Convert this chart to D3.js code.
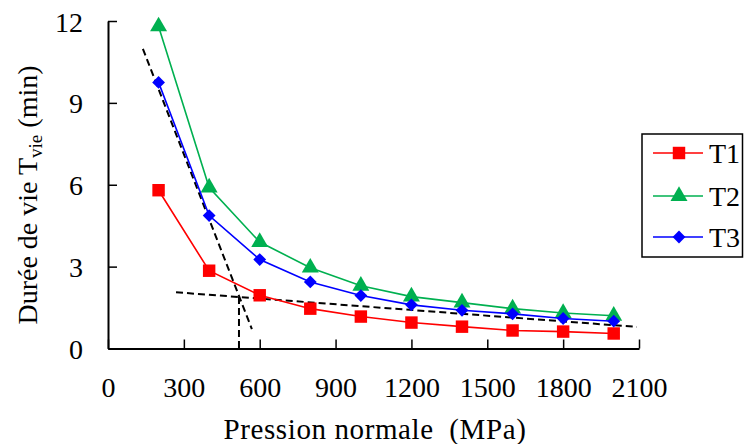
<!DOCTYPE html>
<html>
<head>
<meta charset="utf-8">
<script src="https://cdn.jsdelivr.net/npm/d3@7"></script>
<style>
  html, body { margin: 0; padding: 0; background: #fff; }
  svg { display: block; }
  text { font-family: "Liberation Serif", "Times New Roman", Times, "DejaVu Serif", serif; fill: #000; }
</style>
</head>
<body>
<svg id="chart" width="744" height="444"></svg>
<script>
// ---- data ----
const pressure = [200, 400, 600, 800, 1000, 1200, 1400, 1600, 1800, 2000];
const T1 = [5.8, 2.85, 1.95, 1.46, 1.17, 0.95, 0.8, 0.66, 0.62, 0.55];
const T2 = [11.8, 5.9, 3.9, 2.96, 2.3, 1.9, 1.68, 1.46, 1.3, 1.2];
const T3 = [9.75, 4.87, 3.26, 2.44, 1.94, 1.6, 1.4, 1.27, 1.1, 1.0];
const seriesNames = ["T1", "T2", "T3"];
const xTicks = [0, 300, 600, 900, 1200, 1500, 1800, 2100];
const yTicks = [0, 3, 6, 9, 12];
// construction (dashed) lines: [x, y] pairs in data units
const dashSteep = [[138, 10.98], [569, 0.71]];
const dashFlat = [[269, 2.06], [2092, 0.79]];
const dashVert = [[518, 1.89], [518, 0]];

const colors = { T1: "#ff0000", T2: "#00b050", T3: "#0000ff" };
const diamond = {
  draw(ctx, size) {
    const r = Math.sqrt(size / 2);
    ctx.moveTo(0, -r); ctx.lineTo(r, 0); ctx.lineTo(0, r); ctx.lineTo(-r, 0); ctx.closePath();
  }
};
const shapes = { T1: d3.symbolSquare, T2: d3.symbolTriangle, T3: diamond };
const sizes = { T1: 155, T2: 125, T3: 82 };

const svg = d3.select("#chart");
const x = d3.scaleLinear().domain([0, 2100]).range([108, 639]);
const y = d3.scaleLinear().domain([0, 12]).range([348.5, 21]);

// axes
const xAxis = d3.axisBottom(x).tickValues(xTicks).tickFormat(d3.format("d"))
  .tickSizeInner(-9).tickSizeOuter(0).tickPadding(0);
const gx = svg.append("g").attr("transform", `translate(0,${y(0)})`).call(xAxis)
  .attr("font-family", null).attr("font-size", null);
gx.select(".domain").attr("stroke", "#000").attr("stroke-width", 2);
gx.selectAll(".tick line").attr("stroke", "#000").attr("stroke-width", 1.5);
gx.selectAll(".tick text").attr("font-size", 28).attr("dy", null).attr("y", 48);

const yAxis = d3.axisLeft(y).tickValues(yTicks).tickFormat(d3.format("d"))
  .tickSizeInner(-9).tickSizeOuter(0).tickPadding(0);
const gy = svg.append("g").attr("transform", `translate(${x(0)},0)`).call(yAxis)
  .attr("font-family", null).attr("font-size", null);
gy.select(".domain").attr("stroke", "#000").attr("stroke-width", 2);
gy.selectAll(".tick line").attr("stroke", "#000").attr("stroke-width", 1.5);
gy.selectAll(".tick text").attr("font-size", 28).attr("x", -25).attr("dy", "0.36em");

// dashed construction lines
const lineGen = d3.line().x(d => x(d[0])).y(d => y(d[1]));
[dashSteep, dashFlat, dashVert].forEach(seg => {
  svg.append("path").attr("d", lineGen(seg)).attr("fill", "none")
    .attr("stroke", "#000").attr("stroke-width", 2).attr("stroke-dasharray", "7,4");
});

// series
const data = { T1, T2, T3 };
seriesNames.forEach(name => {
  const pts = pressure.map((p, i) => [p, data[name][i]]);
  svg.append("path").attr("d", lineGen(pts)).attr("fill", "none")
    .attr("stroke", colors[name]).attr("stroke-width", 1.6);
  svg.append("g").selectAll("path").data(pts).join("path")
    .attr("transform", d => `translate(${x(d[0])},${y(d[1])})`)
    .attr("d", d3.symbol().type(shapes[name]).size(sizes[name]))
    .attr("fill", colors[name]);
});

// legend
const lg = svg.append("g");
lg.append("rect").attr("x", 642).attr("y", 134).attr("width", 100.5).attr("height", 123)
  .attr("fill", "#fff").attr("stroke", "#000").attr("stroke-width", 1.5);
const legY = [153, 196, 237];
seriesNames.forEach((name, i) => {
  lg.append("line").attr("x1", 653).attr("x2", 703).attr("y1", legY[i]).attr("y2", legY[i])
    .attr("stroke", colors[name]).attr("stroke-width", 1.6);
  lg.append("path").attr("transform", `translate(679,${legY[i]})`)
    .attr("d", d3.symbol().type(shapes[name]).size(sizes[name])).attr("fill", colors[name]);
  lg.append("text").attr("x", 709).attr("y", legY[i] + 10).attr("font-size", 28).text(name);
});

// axis titles
svg.append("text").attr("x", 375).attr("y", 439).attr("text-anchor", "middle")
  .attr("font-size", 29).attr("letter-spacing", 0.6)
  .attr("xml:space", "preserve").text("Pression normale  (MPa)");

const yt = svg.append("text").attr("transform", "translate(37,195) rotate(-90)")
  .attr("text-anchor", "middle").attr("font-size", 28);
yt.append("tspan").text("Durée de vie T");
yt.append("tspan").attr("font-size", 19).attr("dy", 5).text("vie");
yt.append("tspan").attr("dy", -5).text(" (min)");
</script>
</body>
</html>
